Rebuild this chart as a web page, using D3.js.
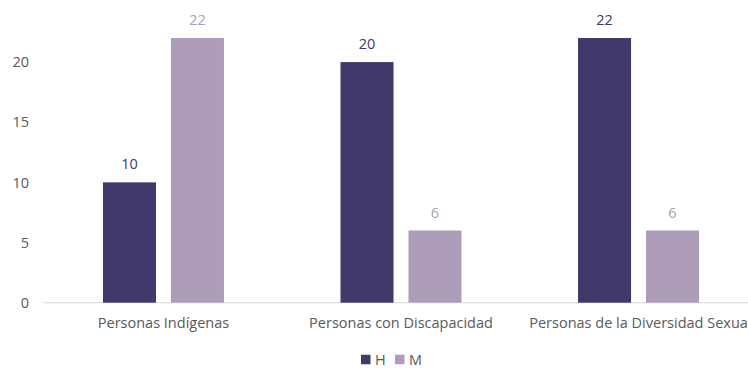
<!DOCTYPE html>
<html>
<head>
<meta charset="utf-8">
<script src="https://cdn.jsdelivr.net/npm/d3@7"></script>
<style>
  html, body { margin: 0; padding: 0; background: #fff; }
  svg { display: block; font-family: "Open Sans", "Noto Sans", sans-serif; }
</style>
</head>
<body>
<div id="chart"></div>
<script>
// Categories and series values
const categories = ["Personas Indígenas", "Personas con Discapacidad", "Personas de la Diversidad Sexua"];
const seriesNames = ["H", "M"];
const valuesH = [10, 20, 22];
const valuesM = [22, 6, 6];
const yTicks = [0, 5, 10, 15, 20];

const colors = { H: "#403a6c", M: "#ae9db9" };
const textGray = "#595959";
const fontSize = "14.5px";

const W = 748, H = 369;
const svg = d3.select("#chart").append("svg")
  .attr("width", W).attr("height", H);

const plot = { left: 45, right: 757, top: 38, bottom: 302.7 };

const y = d3.scaleLinear().domain([0, 22]).range([plot.bottom, plot.top]);

const x0 = d3.scaleBand().domain(categories)
  .range([plot.left, plot.right]).paddingInner(0.4905).paddingOuter(0.244);
const x1 = d3.scaleBand().domain(seriesNames)
  .range([0, x0.bandwidth()]).paddingInner(0.22).paddingOuter(0);

const rows = categories.map((c, i) => ({ cat: c, H: valuesH[i], M: valuesM[i] }));

// Y axis labels only, no axis line
const yAxis = svg.append("g")
  .attr("transform", `translate(29,0)`)
  .call(d3.axisLeft(y).tickValues(yTicks).tickSize(0).tickPadding(0));
yAxis.select(".domain").remove();
yAxis.selectAll("text")
  .attr("fill", textGray).style("font-size", fontSize)
  .style("font-family", "\"Open Sans\", sans-serif");

// Baseline
svg.append("line")
  .attr("x1", 44).attr("x2", W)
  .attr("y1", y(0)).attr("y2", y(0))
  .attr("stroke", "#d9d9d9").attr("stroke-width", 1);

// Bars
const groups = svg.append("g").selectAll("g").data(rows).join("g")
  .attr("transform", d => `translate(${x0(d.cat)},0)`);

groups.selectAll("rect")
  .data(d => seriesNames.map(s => ({ s, v: d[s] })))
  .join("rect")
  .attr("x", d => x1(d.s))
  .attr("width", x1.bandwidth())
  .attr("y", d => y(d.v))
  .attr("height", d => y(0) - y(d.v))
  .attr("fill", d => colors[d.s]);

// Value labels
groups.selectAll("text.val")
  .data(d => seriesNames.map(s => ({ s, v: d[s] })))
  .join("text").attr("class", "val")
  .attr("x", d => x1(d.s) + x1.bandwidth() / 2)
  .attr("y", d => y(d.v) - 13)
  .attr("text-anchor", "middle")
  .attr("fill", d => colors[d.s])
  .style("font-size", fontSize)
  .text(d => d.v);

// Category labels
const xAxis = svg.append("g")
  .attr("transform", `translate(0,${y(0)})`)
  .call(d3.axisBottom(x0).tickSize(0).tickPadding(15));
xAxis.select(".domain").remove();
xAxis.selectAll("text")
  .attr("fill", textGray).style("font-size", fontSize)
  .style("font-family", "\"Open Sans\", sans-serif");

// Legend
const legendX = [361, 395];
const legend = svg.append("g").attr("transform", "translate(0,359.5)");
const items = legend.selectAll("g").data(seriesNames).join("g")
  .attr("transform", (d, i) => `translate(${legendX[i]},0)`);
items.append("rect")
  .attr("x", 0).attr("y", -4.75).attr("width", 9.5).attr("height", 9.5)
  .attr("fill", d => colors[d]);
items.append("text")
  .attr("x", 14).attr("y", 0).attr("dy", "0.36em")
  .attr("fill", textGray).style("font-size", fontSize)
  .text(d => d);
</script>
</body>
</html>
